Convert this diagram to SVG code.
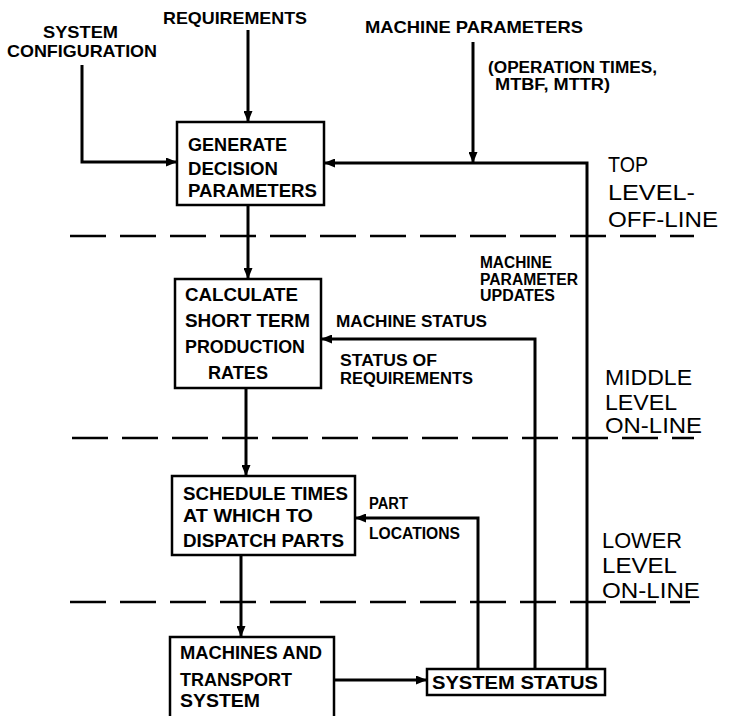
<svg xmlns="http://www.w3.org/2000/svg" width="735" height="716" viewBox="0 0 735 716">
<style>
text{font-family:"Liberation Sans",Arial,sans-serif;fill:#000}
.lb{font-size:17px;font-weight:bold}
.sm{font-size:16px;font-weight:bold}
.bx{font-size:19px;font-weight:bold}
.lv{font-size:22px;font-weight:normal}
.box{fill:#fff;stroke:#000;stroke-width:2.5}
.cn{fill:none;stroke:#000;stroke-width:3}
.dash{fill:none;stroke:#000;stroke-width:2.5;stroke-dasharray:36 14}
</style>
<defs>
<marker id="ah" viewBox="0 0 11 9" refX="11" refY="4.5" markerWidth="11" markerHeight="9" markerUnits="userSpaceOnUse" orient="auto">
<path d="M0,0 L11,4.5 L0,9 z" fill="#000"/>
</marker>
</defs>
<rect width="735" height="716" fill="#fff"/>

<g id="dashes">
<line class="dash" x1="70" y1="236" x2="694" y2="236"/>
<line class="dash" x1="72" y1="438" x2="694" y2="438"/>
<line class="dash" x1="70" y1="602" x2="690" y2="602"/>
</g>

<g id="connectors">
<path class="cn" d="M82,65 V162 H177" marker-end="url(#ah)"/>
<path class="cn" d="M248,30 V122" marker-end="url(#ah)"/>
<path class="cn" d="M473,42 V163" marker-end="url(#ah)"/>
<path class="cn" d="M587,669 V163 H324" marker-end="url(#ah)"/>
<path class="cn" d="M535,669 V339 H321" marker-end="url(#ah)"/>
<path class="cn" d="M478,669 V518 H355" marker-end="url(#ah)"/>
<path class="cn" d="M248,205 V279" marker-end="url(#ah)"/>
<path class="cn" d="M246,388 V476" marker-end="url(#ah)"/>
<path class="cn" d="M241,555 V637" marker-end="url(#ah)"/>
<path class="cn" d="M334,680 H427" marker-end="url(#ah)"/>
</g>

<g id="labels">
<text class="lb" x="43" y="38" textLength="75" lengthAdjust="spacingAndGlyphs">SYSTEM</text>
<text class="lb" x="7" y="57" textLength="150" lengthAdjust="spacingAndGlyphs">CONFIGURATION</text>
<text class="lb" x="163" y="24" textLength="144" lengthAdjust="spacingAndGlyphs">REQUIREMENTS</text>
<text class="lb" x="365" y="33" textLength="218" lengthAdjust="spacingAndGlyphs">MACHINE PARAMETERS</text>
<text class="sm" x="488" y="73" textLength="169" lengthAdjust="spacingAndGlyphs">(OPERATION TIMES,</text>
<text class="sm" x="495" y="90" textLength="115" lengthAdjust="spacingAndGlyphs">MTBF, MTTR)</text>
<text class="sm" x="480" y="268" textLength="72" lengthAdjust="spacingAndGlyphs">MACHINE</text>
<text class="sm" x="480" y="285" textLength="98" lengthAdjust="spacingAndGlyphs">PARAMETER</text>
<text class="sm" x="480" y="301" textLength="75" lengthAdjust="spacingAndGlyphs">UPDATES</text>
<text class="sm" x="336" y="327" textLength="151" lengthAdjust="spacingAndGlyphs">MACHINE STATUS</text>
<text class="sm" x="340" y="366" textLength="97" lengthAdjust="spacingAndGlyphs">STATUS OF</text>
<text class="sm" x="340" y="384" textLength="133" lengthAdjust="spacingAndGlyphs">REQUIREMENTS</text>
<text class="sm" x="369" y="509" textLength="39" lengthAdjust="spacingAndGlyphs">PART</text>
<text class="sm" x="369" y="539" textLength="91" lengthAdjust="spacingAndGlyphs">LOCATIONS</text>
</g>

<g id="levels">
<text class="lv" x="608" y="172" textLength="40" lengthAdjust="spacingAndGlyphs">TOP</text>
<text class="lv" x="608" y="200" textLength="87" lengthAdjust="spacingAndGlyphs">LEVEL-</text>
<text class="lv" x="608" y="227" textLength="110" lengthAdjust="spacingAndGlyphs">OFF-LINE</text>
<text class="lv" x="605" y="385" textLength="87" lengthAdjust="spacingAndGlyphs">MIDDLE</text>
<text class="lv" x="605" y="410" textLength="72" lengthAdjust="spacingAndGlyphs">LEVEL</text>
<text class="lv" x="605" y="433" textLength="97" lengthAdjust="spacingAndGlyphs">ON-LINE</text>
<text class="lv" x="602" y="548" textLength="80" lengthAdjust="spacingAndGlyphs">LOWER</text>
<text class="lv" x="602" y="573" textLength="75" lengthAdjust="spacingAndGlyphs">LEVEL</text>
<text class="lv" x="602" y="598" textLength="98" lengthAdjust="spacingAndGlyphs">ON-LINE</text>
</g>

<g id="generate">
<rect class="box" x="177" y="122" width="147" height="83"/>
<text class="bx" x="188" y="151" textLength="99" lengthAdjust="spacingAndGlyphs">GENERATE</text>
<text class="bx" x="188" y="175" textLength="90" lengthAdjust="spacingAndGlyphs">DECISION</text>
<text class="bx" x="188" y="197" textLength="129" lengthAdjust="spacingAndGlyphs">PARAMETERS</text>
</g>

<g id="calculate">
<rect class="box" x="175" y="279" width="146" height="109"/>
<text class="bx" x="185" y="301" textLength="113" lengthAdjust="spacingAndGlyphs">CALCULATE</text>
<text class="bx" x="185" y="327" textLength="125" lengthAdjust="spacingAndGlyphs">SHORT TERM</text>
<text class="bx" x="185" y="353" textLength="120" lengthAdjust="spacingAndGlyphs">PRODUCTION</text>
<text class="bx" x="208" y="379" textLength="60" lengthAdjust="spacingAndGlyphs">RATES</text>
</g>

<g id="schedule">
<rect class="box" x="172" y="476" width="183" height="79"/>
<text class="bx" x="183" y="500" textLength="165" lengthAdjust="spacingAndGlyphs">SCHEDULE TIMES</text>
<text class="bx" x="183" y="522" textLength="130" lengthAdjust="spacingAndGlyphs">AT WHICH TO</text>
<text class="bx" x="183" y="547" textLength="161" lengthAdjust="spacingAndGlyphs">DISPATCH PARTS</text>
</g>

<g id="machines">
<rect class="box" x="170" y="637" width="164" height="95"/>
<text class="bx" x="180" y="659" textLength="142" lengthAdjust="spacingAndGlyphs">MACHINES AND</text>
<text class="bx" x="180" y="686" textLength="112" lengthAdjust="spacingAndGlyphs">TRANSPORT</text>
<text class="bx" x="180" y="707" textLength="80" lengthAdjust="spacingAndGlyphs">SYSTEM</text>
</g>

<g id="status">
<rect class="box" x="427" y="669" width="178" height="26"/>
<text class="bx" x="432" y="689" textLength="166" lengthAdjust="spacingAndGlyphs">SYSTEM STATUS</text>
</g>
</svg>
